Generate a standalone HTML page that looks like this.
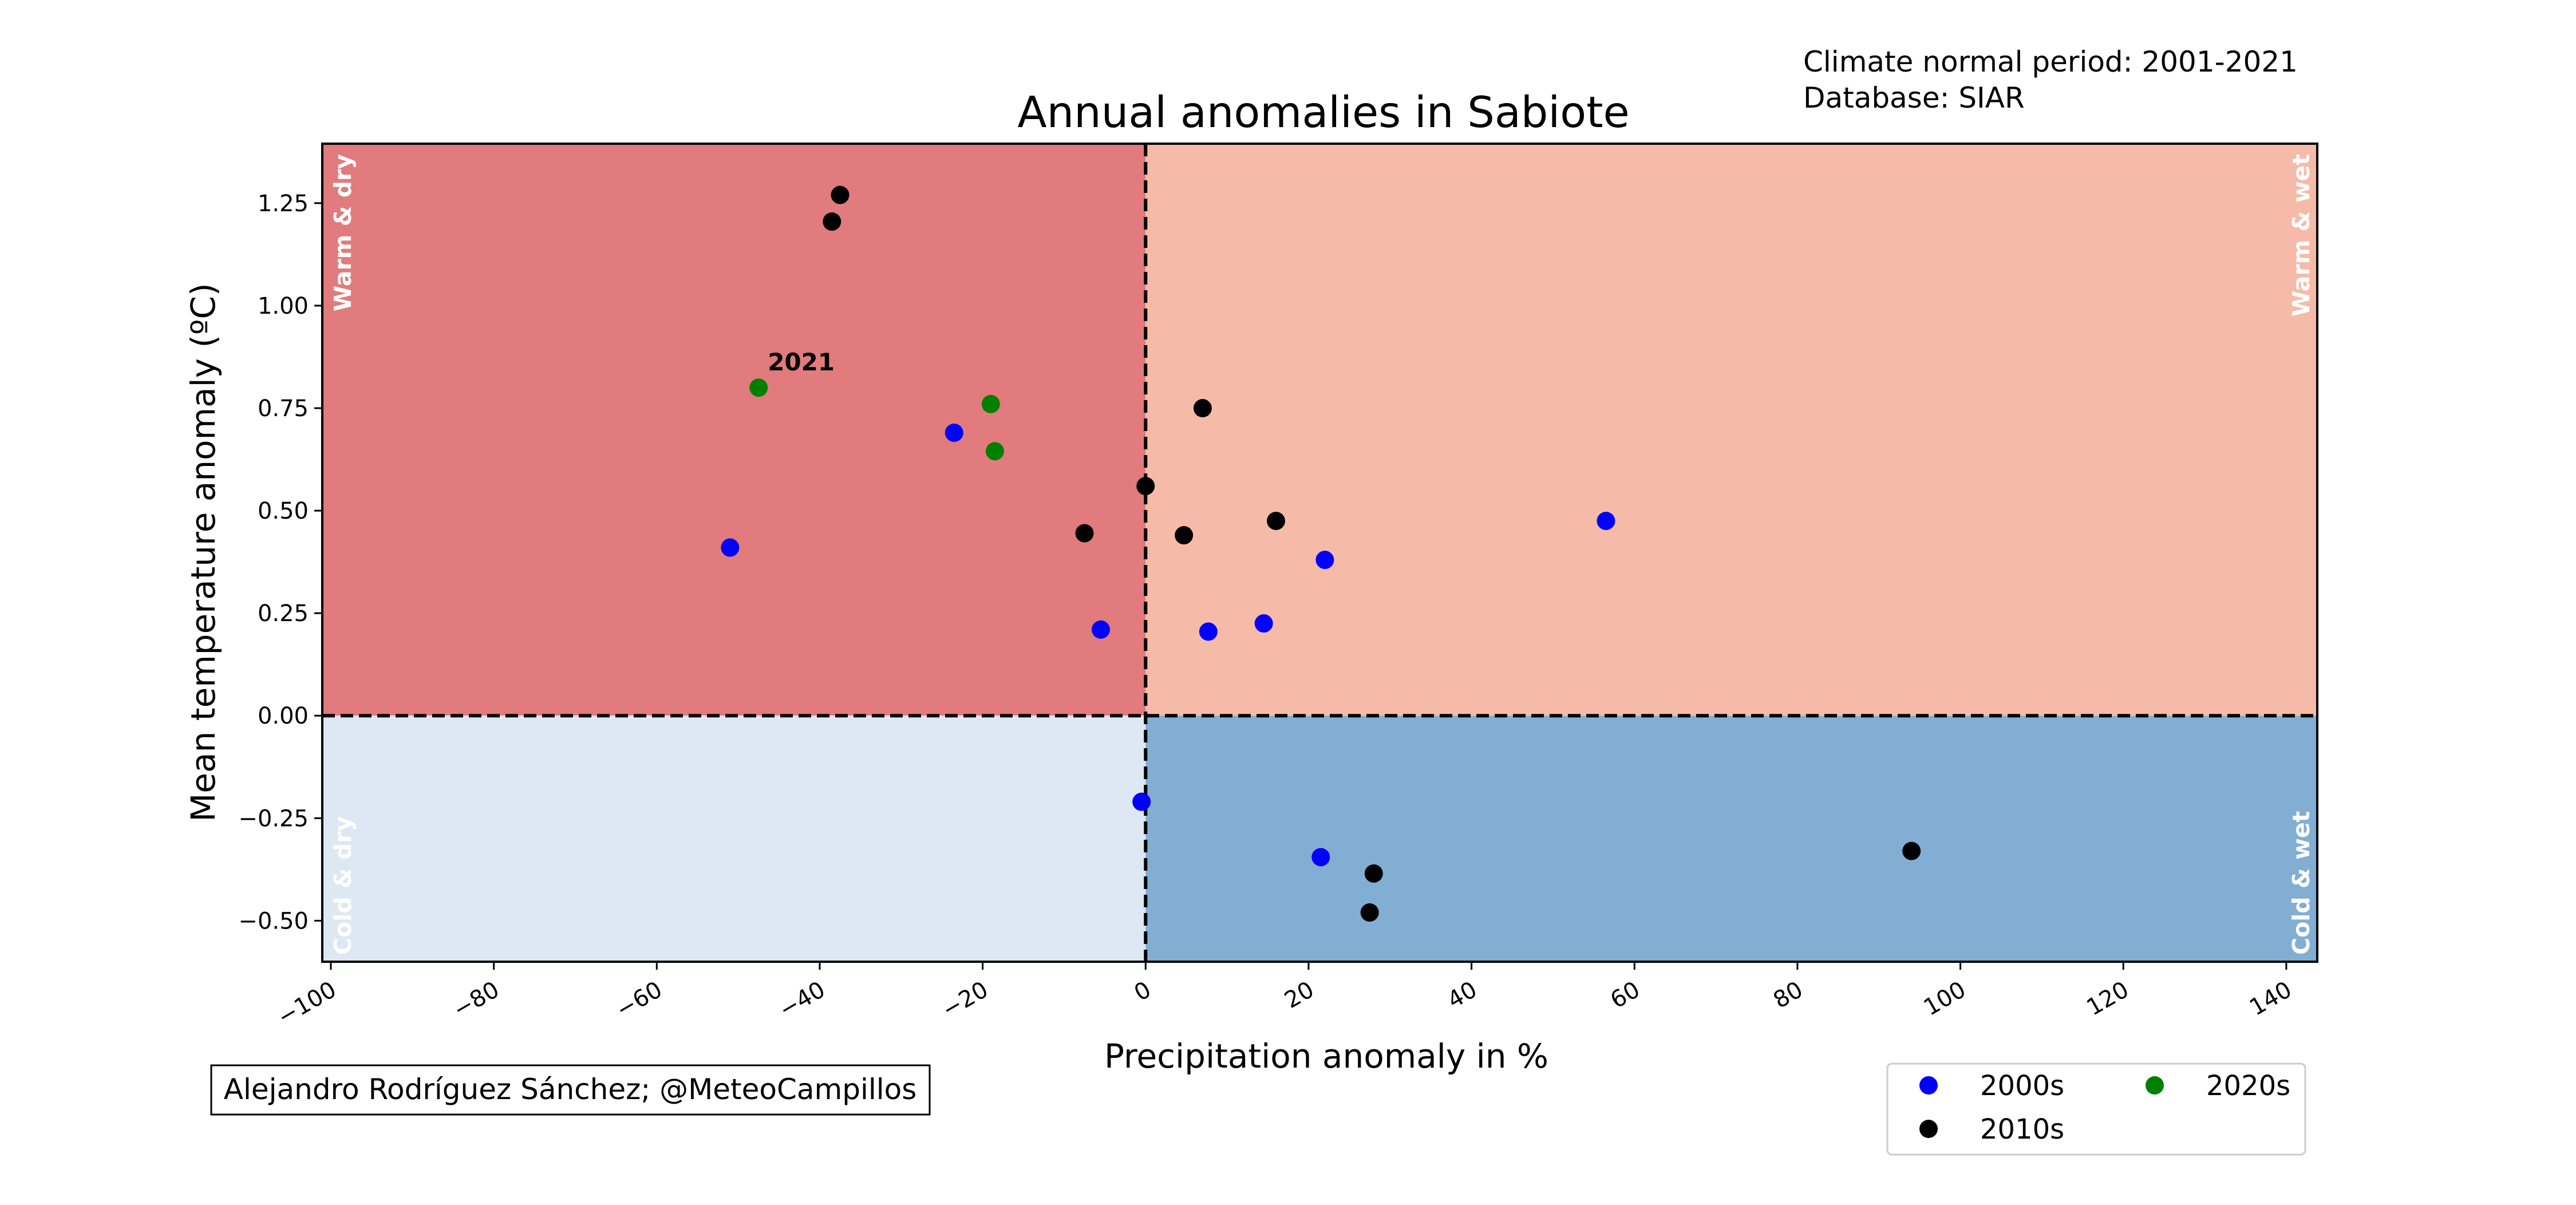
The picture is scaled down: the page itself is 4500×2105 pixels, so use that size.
<!DOCTYPE html>
<html><head><meta charset="utf-8"><style>
html,body{margin:0;padding:0;background:#fff;}
svg text{font-family:"DejaVu Sans","Liberation Sans",sans-serif;}
</style></head><body>
<svg id="chart" width="4500" height="2100" xmlns="http://www.w3.org/2000/svg">
<rect width="4500" height="2100" fill="#fff"/>
<g id="quads"></g>
<g id="marks"></g>
<g id="axes"></g>
<text x="2312" y="222" font-size="75" text-anchor="middle">Annual anomalies in Sabiote</text>
<text x="3150" y="125" font-size="50">Climate normal period: 2001-2021</text>
<text x="3150" y="188" font-size="50">Database: SIAR</text>
<text x="2317" y="1865" font-size="58" text-anchor="middle">Precipitation anomaly in %</text>
<text transform="translate(375,965) rotate(-90)" font-size="58" text-anchor="middle">Mean temperature anomaly (ºC)</text>
<g>
<rect x="369" y="1861" width="1255" height="86" fill="#fff" stroke="#000" stroke-width="3"/>
<text x="996" y="1920" font-size="50" text-anchor="middle">Alejandro Rodríguez Sánchez; @MeteoCampillos</text>
</g>
<g transform="translate(-18,0)">
<rect x="3315" y="1858" width="730" height="159" rx="8" fill="#fff" stroke="#ccc" stroke-width="3"/>
<circle cx="3387" cy="1896" r="16" fill="#0000ff"/>
<text x="3477" y="1913" font-size="48">2000s</text>
<circle cx="3782" cy="1896" r="16" fill="#008000"/>
<text x="3872" y="1913" font-size="48">2020s</text>
<circle cx="3387" cy="1972" r="16" fill="#000"/>
<text x="3477" y="1989" font-size="48">2010s</text>
</g>
</svg>
<script>
const xTicks=[-100,-80,-60,-40,-20,0,20,40,60,80,100,120,140];
const yTicks=[-0.5,-0.25,0,0.25,0.5,0.75,1.0,1.25];
const yTickLabels=["\u22120.50","\u22120.25","0.00","0.25","0.50","0.75","1.00","1.25"];
const x2000s=[-51,-23.5,-5.5,7.7,14.5,22,56.5,-0.5,21.5];
const y2000s=[0.41,0.69,0.21,0.205,0.225,0.38,0.475,-0.21,-0.345];
const x2010s=[-37.5,-38.5,7,0,-7.5,4.7,16,28,27.5,94];
const y2010s=[1.27,1.205,0.75,0.56,0.445,0.44,0.475,-0.385,-0.48,-0.33];
const x2020s=[-47.5,-19,-18.5];
const y2020s=[0.80,0.76,0.645];
const xMin=-101.05,xMax=143.8,yMin=-0.60,yMax=1.395;
const L=563,R=4048,T=251,B=1680;
const sx=v=>L+(v-xMin)/(xMax-xMin)*(R-L);
const sy=v=>B-(v-yMin)/(yMax-yMin)*(B-T);
const NS="http://www.w3.org/2000/svg";
function mk(tag,attrs,parent){const e=document.createElementNS(NS,tag);for(const k in attrs)e.setAttribute(k,attrs[k]);parent.appendChild(e);return e;}
const q=document.getElementById('quads'),m=document.getElementById('marks'),a=document.getElementById('axes');
const x0=sx(0),y0=sy(0);
let r;
r=mk('rect',{x:L,y:T,width:x0-L,height:y0-T,fill:'#e17b7d'},q);


r=mk('rect',{x:x0,y:T,width:R-x0,height:y0-T,fill:'#f6bba8'},q);


r=mk('rect',{x:L,y:y0,width:x0-L,height:B-y0,fill:'#dde8f4'},q);


r=mk('rect',{x:x0,y:y0,width:R-x0,height:B-y0,fill:'#82aed4'},q);


function qlabel(txt,x,y,anchor,name){const t=mk('text',{transform:`translate(${x},${y}) rotate(-90)`,'font-size':41,'font-weight':'bold',fill:'#fff','text-anchor':anchor},q);t.textContent=txt;

}
qlabel('Warm & dry',L+50,T+18,'end','warm-dry-label');
qlabel('Warm & wet',R-14,T+18,'end','warm-wet-label');
qlabel('Cold & dry',L+50,B-12,'start','cold-dry-label');
qlabel('Cold & wet',R-14,B-12,'start','cold-wet-label');
let ln=mk('line',{x1:x0,y1:T,x2:x0,y2:B,stroke:'#000','stroke-width':6,'stroke-dasharray':'22 10'},q);


ln=mk('line',{x1:L,y1:y0,x2:R,y2:y0,stroke:'#000','stroke-width':6,'stroke-dasharray':'22 10'},q);


function series(xs,ys,col,name){xs.forEach((v,i)=>{const c=mk('circle',{cx:sx(v),cy:sy(ys[i]),r:16,fill:col},m);

});}
series(x2000s,y2000s,'#0000ff','2000s');
series(x2010s,y2010s,'#000000','2010s');
series(x2020s,y2020s,'#008000','2020s');
const ann=mk('text',{x:sx(x2020s[0])+16,y:sy(y2020s[0])-30,'font-size':42,'font-weight':'bold'},m);
ann.textContent='2021';


const fr=mk('rect',{x:L,y:T,width:R-L,height:B-T,fill:'none',stroke:'#000','stroke-width':4},a);


xTicks.forEach(v=>{const x=sx(v);const t=mk('line',{x1:x,y1:B,x2:x,y2:B+14,stroke:'#000','stroke-width':3},a);


const tx=mk('text',{transform:`translate(${x-2},${B+32}) rotate(-30)`,'font-size':40,'text-anchor':'end','dominant-baseline':'hanging'},a);
tx.textContent=v<0?'\u2212'+Math.abs(v):String(v);

});
yTicks.forEach((v,i)=>{const y=sy(v);const t=mk('line',{x1:L-14,y1:y,x2:L,y2:y,stroke:'#000','stroke-width':3},a);


const tx=mk('text',{x:L-24,y:y+14,'font-size':40,'text-anchor':'end'},a);
tx.textContent=yTickLabels[i];

});
</script>
</body></html>
